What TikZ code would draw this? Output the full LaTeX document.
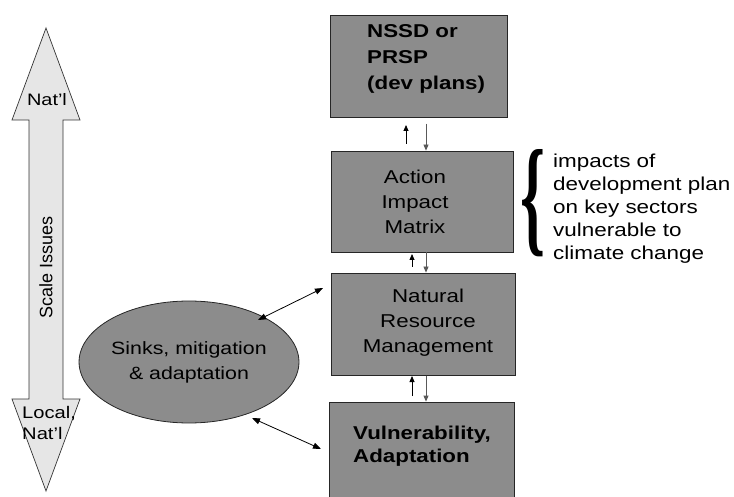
\documentclass[tikz,border=0pt]{standalone}
\usepackage{fontspec}
\setmainfont[FakeStretch=1.2]{Liberation Sans}
\newfontfamily\plainsans{Liberation Sans}
\newfontfamily\braceserif{Liberation Serif}
\usetikzlibrary{arrows.meta,shapes.geometric}
\definecolor{boxgray}{HTML}{8C8C8C}
\definecolor{lightgray}{HTML}{E6E6E6}
\tikzset{
  box/.style={draw=black!85, fill=boxgray, line width=0.8pt, inner sep=0pt},
  txt/.style={font=\fontsize{18.6}{25}\selectfont, inner sep=0pt, align=center},
  btxt/.style={font=\bfseries\fontsize{18.6}{26}\selectfont, inner sep=0pt, align=left},
  uptip/.style={-{Triangle[length=6pt,width=5pt]}, line width=0.8pt, draw=black},
  downtip/.style={-{Triangle[length=6pt,width=5pt]}, line width=0.8pt, draw=black!65, fill=black!80},
  dtip/.style={{Triangle[length=8pt,width=6pt]}-{Triangle[length=8pt,width=6pt]}, line width=0.8pt},
}
\begin{document}
\begin{tikzpicture}[x=1pt,y=-1pt]
\useasboundingbox (0,0) rectangle (734,497);

% Scale arrow
\draw[fill=lightgray, draw=black!80, line width=0.7pt]
  (46,28) -- (80,120) -- (63,120) -- (63,399) -- (80,399) -- (46,491)
  -- (12,399) -- (29,399) -- (29,120) -- (12,120) -- cycle;
\node[inner sep=0pt, font=\fontsize{16.6}{19}\selectfont] (natl) at (47,100) {Nat’l};
\node[inner sep=0pt, rotate=90, font=\plainsans\fontsize{18}{20}\selectfont] (scale) at (46,267) {Scale Issues};
\node[inner sep=0pt, anchor=west, align=left, font=\fontsize{16.8}{21}\selectfont] (local) at (22,423) {Local,\\Nat’l};

% Boxes
\node[box, minimum width=177pt, minimum height=102pt] (nssd) at (418.5,66) {};
\node[box, minimum width=182pt, minimum height=101pt] (action) at (422,201.5) {};
\node[box, minimum width=184pt, minimum height=102pt] (nrm) at (423,324) {};
\node[box, minimum width=185pt, minimum height=98pt] (vuln) at (421.5,451) {};

\node[btxt, anchor=west] (nssdtext) at (367,59) {NSSD or\\PRSP\\(dev plans)};
\node[txt] (actiontext) at (415,202) {Action\\Impact\\Matrix};
\node[txt] (nrmtext) at (428,322.5) {Natural\\Resource\\Management};
\node[btxt, anchor=west, font=\bfseries\fontsize{18.6}{23}\selectfont] (vulntext) at (353,446.5) {Vulnerability,\\Adaptation};

% Ellipse
\node[ellipse, draw=black!85, fill=boxgray, line width=0.8pt, minimum width=176pt, minimum height=122pt, inner sep=0pt,
      font=\fontsize{17.8}{25}\selectfont, align=center] (sinks) at (189,362) {Sinks, mitigation\\\& adaptation};

% Small vertical arrows
\coordinate (u1s) at (406,144); \coordinate (u1e) at (406,125);
\coordinate (d1s) at (426,124);
\coordinate (u2s) at (412,267); \coordinate (u2e) at (412,254);
\coordinate (d2s) at (426,252.5);
\coordinate (u3s) at (412,396); \coordinate (u3e) at (412,376);
\coordinate (d3s) at (426,375.5);
\draw[uptip] (u1s) -- (u1e);
\draw[downtip] (d1s) -- (d1s |- action.north);
\draw[uptip] (u2s) -- (u2e);
\draw[downtip] (d2s) -- (d2s |- nrm.north);
\draw[uptip] (u3s) -- (u3e);
\draw[downtip] (d3s) -- (d3s |- vuln.north);

% Double arrows
\coordinate (a1l) at (258,320); \coordinate (a1r) at (323,288);
\coordinate (a2l) at (252,418); \coordinate (a2r) at (321,449);
\draw[dtip] (a1l) -- (a1r);
\draw[dtip] (a2l) -- (a2r);

% Brace and note
\node[inner sep=0pt] (brace) at (532.5,203) {\resizebox{25pt}{90pt}{\braceserif\bfseries\{}};
\node[inner sep=0pt, anchor=west, align=left, font=\fontsize{18.7}{23}\selectfont] (note) at (553,209)
  {impacts of\\development plan\\on key sectors\\vulnerable to\\climate change};
\end{tikzpicture}
\end{document}
